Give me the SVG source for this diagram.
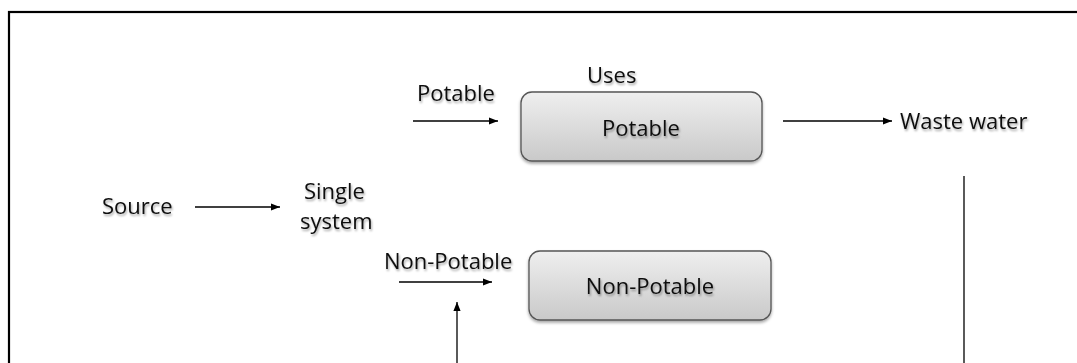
<svg xmlns="http://www.w3.org/2000/svg" width="1077" height="363" viewBox="0 0 1077 363">
<style>
text{font-family:"Open Sans","Noto Sans",sans-serif;font-size:22px;fill:#111;filter:url(#ts)}
.c{text-anchor:middle}
.ln{stroke:#000;stroke-width:1.3;fill:none}
.box{fill:url(#g);stroke:#555;stroke-width:1.3;filter:url(#bs)}
</style>
<defs>
<linearGradient id="g" x1="0" y1="0" x2="0" y2="1">
<stop offset="0" stop-color="#efefef"/>
<stop offset="1" stop-color="#c9c9c9"/>
</linearGradient>
<filter id="ts" x="-10%" y="-30%" width="120%" height="170%">
<feDropShadow dx="1" dy="2" stdDeviation="1.2" flood-color="#000" flood-opacity="0.35"/>
</filter>
<filter id="bs" x="-5%" y="-10%" width="110%" height="125%">
<feDropShadow dx="0" dy="2" stdDeviation="1.5" flood-color="#000" flood-opacity="0.35"/>
</filter>
<marker id="ah" viewBox="0 0 10 10" refX="10" refY="5" markerWidth="9" markerHeight="9" markerUnits="userSpaceOnUse" orient="auto">
<path d="M0,1 L10,5 L0,9 Z" fill="#000"/>
</marker>
</defs>
<rect x="9" y="12" width="1100" height="400" fill="#fff" stroke="#000" stroke-width="2.2"/>
<g id="source"><text x="102" y="214">Source</text></g>
<g id="single-system"><text x="304" y="199">Single</text><text x="300" y="229">system</text></g>
<g id="uses"><text x="587" y="83">Uses</text></g>
<g id="potable-label"><text x="417" y="101">Potable</text></g>
<g id="nonpotable-label"><text x="384" y="269">Non-Potable</text></g>
<g id="potable-box"><rect class="box" x="521" y="92" width="241" height="69" rx="11"/><text class="c" x="641" y="136">Potable</text></g>
<g id="nonpotable-box"><rect class="box" x="529" y="251" width="242" height="69" rx="11"/><text class="c" x="650" y="294">Non-Potable</text></g>
<g id="waste-water"><text x="900" y="129">Waste water</text></g>
<g id="connectors">
<line class="ln" x1="195" y1="207" x2="280" y2="207" marker-end="url(#ah)"/>
<line class="ln" x1="413" y1="121" x2="498" y2="121" marker-end="url(#ah)"/>
<line class="ln" x1="783" y1="121" x2="892" y2="121" marker-end="url(#ah)"/>
<line class="ln" x1="399" y1="282" x2="492" y2="282" marker-end="url(#ah)"/>
<line class="ln" x1="457" y1="363" x2="457" y2="302" marker-end="url(#ah)"/>
<line class="ln" x1="964" y1="176" x2="964" y2="363"/>
</g>
</svg>
